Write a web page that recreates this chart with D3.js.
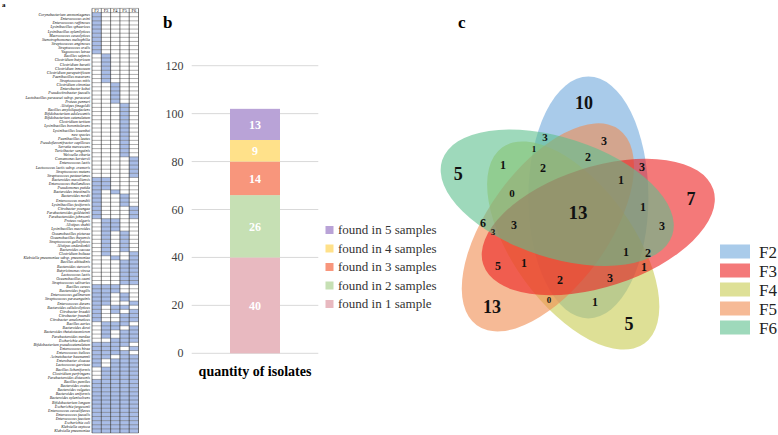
<!DOCTYPE html>
<html><head><meta charset="utf-8">
<script src="https://cdn.jsdelivr.net/npm/d3@7"></script>
<style>body{margin:0;background:#fff}svg{display:block}</style>
</head><body>
<svg id="chart" width="778" height="435"></svg>
<script>
// ---------------- DATA ----------------
const samples = ["F2","F3","F4","F5","F6"];
const species = [
"Corynebacterium ammoniagenes","Enterococcus asini","Enterococcus raffinosus","Lysinibacillus sphaericus","Lysinibacillus xylanilyticus",
"Macrococcus caseolyticus","Stenotrophomonas maltophilia","Streptococcus anginosus","Streptococcus oralis","Vagococcus lutrae",
"Bacillus safensis","Clostridium butyricum","Clostridium baratii","Clostridium innocuum","Clostridium paraputrificum",
"Paenibacillus macerans","Streptococcus mitis",
"Clostridium citroniae","Enterobacter kobei","Pseudocitrobacter faecalis","Lactobacillus paracasei subsp. paracasei","Proteus penneri",
"Alistipes finegoldii","Bacillus amyloliquefaciens","Bifidobacterium adolescentis","Bifidobacterium catenulatum","Clostridium tertium",
"Lysinibacillus boronitolerans","Lysinibacillus louembei","new species","Paenibacillus lautus","Pseudoflavonifractor capillosus",
"Serratia marcescens","Turicibacter sanguinis","Weissella cibaria",
"Comamonas kerstersii","Enterococcus lactis","Lactococcus lactis subsp. cremoris","Streptococcus mutans","Streptococcus pasteurianus",
"Bacteroides massiliensis","Enterococcus thailandicus","Pseudomonas putida","Bacteroides intestinalis","Bacteroides nordii",
"Enterococcus mundtii","Lysinibacillus fusiformis","Citrobacter youngae","Parabacteroides goldsteinii","Parabacteroides johnsonii",
"Proteus vulgaris","Alistipes shahii","Lysinibacillus macroides","Oceanobacillus picturae","Oceanobacillus iheyensis",
"Streptococcus gallolyticus","Alistipes onderdonkii","Bacteroides caccae","Clostridium bolteae","Klebsiella pneumoniae subsp. pneumoniae",
"Bacillus altitudinis","Bacteroides stercoris","Butyricimonas virosa","Lactococcus lactis","Oceanobacillus caeni","Streptococcus salivarius",
"Bacillus cereus","Bacteroides fragilis","Enterococcus gallinarum","Streptococcus parasanguinis","Enterococcus durans",
"Bacteroides cellulosilyticus","Citrobacter braakii","Citrobacter freundii","Citrobacter amalonaticus","Bacillus aerius",
"Bacteroides dorei","Bacteroides thetaiotaomicron","Parabacteroides merdae","Escherichia albertii",
"Bifidobacterium pseudocatenulatum","Enterococcus hirae","Enterococcus italicus","Acinetobacter baumannii","Enterobacter cloacae",
"Lactococcus garvieae","Bacillus licheniformis","Clostridium perfringens","Parabacteroides distasonis",
"Bacillus pumilus","Bacteroides ovatus","Bacteroides vulgatus","Bacteroides uniformis","Bacteroides xylanisolvens",
"Bifidobacterium longum","Escherichia fergusonii","Enterococcus casseliflavus","Enterococcus faecalis","Enterococcus faecium",
"Escherichia coli","Klebsiella oxytoca","Klebsiella pneumoniae"
];
// presence in F2 F3 F4 F5 F6
const presence = [
"10000","10000","10000","10000","10000","10000","10000","10000","10000","10000",
"01000","01000","01000","01000","01000","01000","01000",
"00100","00100","00100","00100","00100",
"00010","00010","00010","00010","00010","00010","00010","00010","00010","00010","00010","00010","00010",
"00001","00001","00001","00001","00001",
"11000","11000","11000","10100","10010","10010","10010","10001","10001","10001",
"01100","01100","01100","01010","01010","01010","01010","01010","01001","00101",
"00011","00011","00011","00011","00011","00011",
"11100","11100","11010","11010","11001","10110","10101","10011","10011","01110","01101","01011","01011","00111",
"11110","11101","11110","11011","10111","10111","01111","01111","01111",
"11111","11111","11111","11111","11111","11111","11111","11111","11111","11111","11111","11111","11111"
];

const barCategory = ["quantity of isolates"];
const groupLabels = ["found in 1 sample","found in 2 samples","found in 3 samples","found in 4 samples","found in 5 samples"];
const groupCounts = [40, 26, 14, 9, 13];
const yTicks = [0, 20, 40, 60, 80, 100, 120];

const vennSets = ["F2","F3","F4","F5","F6"];
const vennUnique = [10, 7, 5, 13, 5];
const vennAll = 13;
const vennShared = [3,3,1,2,1,2,3,1,0,1,6,3,3,3,1,2,5,1,1,2,3,0,1];

// ---------------- LAYOUT / STYLE ----------------
const font = "'Liberation Serif','Times New Roman',serif";
const svg = d3.select("#chart");

// ===== Panel a =====
const gA = svg.append("g");
const colX = d3.scaleBand().domain(samples).range([92, 138.5]);
const rowY = d3.scaleBand().domain(species).range([12.6, 433]);
gA.append("text").attr("x", 2).attr("y", 7).text("a")
  .attr("font-family", font).attr("font-weight", "bold").attr("font-size", 7);
gA.selectAll("text.hdr").data(samples).join("text")
  .attr("x", d => colX(d) + colX.bandwidth() / 2).attr("y", 11.9)
  .attr("text-anchor", "middle").attr("font-family", font).attr("font-size", 4.4).text(d => d);
const cells = [];
species.forEach((s, i) => samples.forEach((f, j) => { if (presence[i][j] === "1") cells.push({ s, f }); }));
gA.selectAll("rect.cell").data(cells).join("rect")
  .attr("x", d => colX(d.f)).attr("y", d => rowY(d.s))
  .attr("width", colX.bandwidth()).attr("height", rowY.bandwidth())
  .attr("fill", "#a9bde7");
const rowEdges = [8.4].concat(species.map(s => rowY(s))).concat([rowY.range()[1]]);
gA.selectAll("line.h").data(rowEdges).join("line")
  .attr("x1", colX.range()[0]).attr("x2", colX.range()[1])
  .attr("y1", d => d).attr("y2", d => d)
  .attr("stroke", "#4a4a4a").attr("stroke-width", 0.45);
const colEdges = samples.map(f => colX(f)).concat([colX.range()[1]]);
gA.selectAll("line.v").data(colEdges).join("line")
  .attr("x1", d => d).attr("x2", d => d).attr("y1", 8.4).attr("y2", rowY.range()[1])
  .attr("stroke", "#222").attr("stroke-width", 0.6);
gA.selectAll("text.sp").data(species).join("text")
  .attr("x", 90).attr("y", d => rowY(d) + rowY.bandwidth() * 0.85)
  .attr("text-anchor", "end").attr("font-family", font).attr("font-style", "italic")
  .attr("font-size", 3.9).attr("fill", "#111").text(d => d);

// ===== Panel b =====
const gB = svg.append("g");
const y = d3.scaleLinear().domain([0, 120]).range([353.3, 65.7]);
const xB = d3.scaleBand().domain(barCategory).range([191.7, 318.3]).paddingInner(0).paddingOuter(0.766);
const barColors = ["#e8b9c0", "#c6e0b4", "#f8967c", "#ffe18a", "#b9a3d7"];
gB.append("text").attr("x", 163).attr("y", 28).text("b")
  .attr("font-family", font).attr("font-weight", "bold").attr("font-size", 17);
gB.selectAll("line.grid").data(yTicks).join("line")
  .attr("x1", 191.7).attr("x2", 318.3).attr("y1", d => y(d)).attr("y2", d => y(d))
  .attr("stroke", "#d9d9d9").attr("stroke-width", 1);
gB.selectAll("text.tick").data(yTicks).join("text")
  .attr("x", 183.5).attr("y", d => y(d) + 4).attr("text-anchor", "end")
  .attr("font-family", font).attr("font-size", 12).attr("fill", "#404040").text(d => d);
const stackData = [];
let acc = 0;
groupCounts.forEach((v, i) => { stackData.push({ label: groupLabels[i], v, y0: acc, y1: acc + v, c: barColors[i] }); acc += v; });
gB.selectAll("rect.seg").data(stackData).join("rect")
  .attr("x", xB(barCategory[0])).attr("width", xB.bandwidth())
  .attr("y", d => y(d.y1)).attr("height", d => y(d.y0) - y(d.y1)).attr("fill", d => d.c);
gB.selectAll("text.val").data(stackData).join("text")
  .attr("x", xB(barCategory[0]) + xB.bandwidth() / 2).attr("y", d => y((d.y0 + d.y1) / 2) + 4.3)
  .attr("text-anchor", "middle").attr("font-family", font).attr("font-weight", "bold")
  .attr("font-size", 12).attr("fill", "#fff").text(d => d.v);
gB.append("text").attr("x", xB(barCategory[0]) + xB.bandwidth() / 2).attr("y", 376)
  .attr("text-anchor", "middle").attr("font-family", font).attr("font-weight", "bold")
  .attr("font-size", 14).text(barCategory[0]);
const legB = stackData.slice().reverse();
gB.selectAll("rect.lg").data(legB).join("rect")
  .attr("x", 325.5).attr("y", (d, i) => 226 + i * 18.5).attr("width", 8).attr("height", 8).attr("fill", d => d.c);
gB.selectAll("text.lg").data(legB).join("text")
  .attr("x", 338).attr("y", (d, i) => 234 + i * 18.5)
  .attr("font-family", font).attr("font-size", 13).attr("fill", "#333").text(d => d.label);

// ===== Panel c =====
const gC = svg.append("g");
gC.append("text").attr("x", 458).attr("y", 28).text("c")
  .attr("font-family", font).attr("font-weight", "bold").attr("font-size", 17);
const vx = d3.scaleLinear().domain([-1, 1]).range([573 - 140, 573 + 140]);
const vy = d3.scaleLinear().domain([-1, 1]).range([219 + 140, 219 - 140]);
const geom = { a: 60 / 140, b: 121 / 140, d: 26.5 / 140, offset0: 54.5 };
const rotIndex = { F2: 0, F6: 1, F5: 2, F4: 3, F3: 4 };
const drawOrder = ["F2", "F4", "F5", "F3", "F6"];
const vennColors = { F2: "#6fa8dc", F3: "#ed1f1f", F4: "#c8cc50", F5: "#f08c50", F6: "#5ec08e" };
const ell = drawOrder.map(s => {
  const i = rotIndex[s];
  const ang = (geom.offset0 + 72 * i) * Math.PI / 180;
  return { s, cx: vx(geom.d * Math.cos(ang)), cy: vy(geom.d * Math.sin(ang)), rot: -72 * i };
});
const kx = vx(1) - vx(0);
gC.selectAll("ellipse").data(ell).join("ellipse")
  .attr("cx", d => d.cx).attr("cy", d => d.cy)
  .attr("rx", geom.a * kx).attr("ry", geom.b * kx)
  .attr("transform", d => `rotate(${d.rot},${d.cx},${d.cy})`)
  .attr("fill", d => vennColors[d.s]).attr("fill-opacity", 0.6);

const uniquePos = [[0.079, 0.829], [0.843, 0.143], [0.4, -0.75], [-0.579, -0.629], [-0.819, 0.326]];
const allPos = [0.036, 0.05];
const sharedPos = [[-0.2,0.586],[0.221,0.557],[-0.279,0.5],[0.107,0.443],[-0.5,0.386],[-0.214,0.364],[0.493,0.371],
  [0.343,0.279],[-0.436,0.186],[0.5,0.086],[-0.643,-0.029],[-0.571,-0.093],[-0.421,-0.043],[0.636,-0.05],
  [0.379,-0.236],[0.536,-0.243],[-0.536,-0.336],[-0.35,-0.314],[0.507,-0.343],[-0.093,-0.436],[0.264,-0.421],
  [-0.171,-0.579],[0.157,-0.593]];
const sharedSize = [11,12,9,12,12,12,12,12,11,12,12,9,12,12,12,12,12,12,12,12,12,9,12];
const bigLabels = vennUnique.map((v, i) => ({ v, p: uniquePos[i], fs: 18 })).concat([{ v: vennAll, p: allPos, fs: 19 }]);
const smallLabels = vennShared.map((v, i) => ({ v, p: sharedPos[i], fs: sharedSize[i] }));
gC.selectAll("text.vl").data(bigLabels.concat(smallLabels)).join("text")
  .attr("x", d => vx(d.p[0])).attr("y", d => vy(d.p[1]) + d.fs * 0.35)
  .attr("text-anchor", "middle").attr("font-family", font).attr("font-weight", "bold")
  .attr("font-size", d => d.fs).attr("fill", "#111").text(d => d.v);

gC.selectAll("rect.vlg").data(vennSets).join("rect")
  .attr("x", 720).attr("y", (d, i) => 244.5 + i * 19).attr("width", 30).attr("height", 14)
  .attr("fill", d => vennColors[d]).attr("fill-opacity", 0.6);
gC.selectAll("text.vlg").data(vennSets).join("text")
  .attr("x", 759).attr("y", (d, i) => 257.5 + i * 19)
  .attr("font-family", font).attr("font-size", 17).attr("fill", "#222").text(d => d);
</script>
</body></html>
